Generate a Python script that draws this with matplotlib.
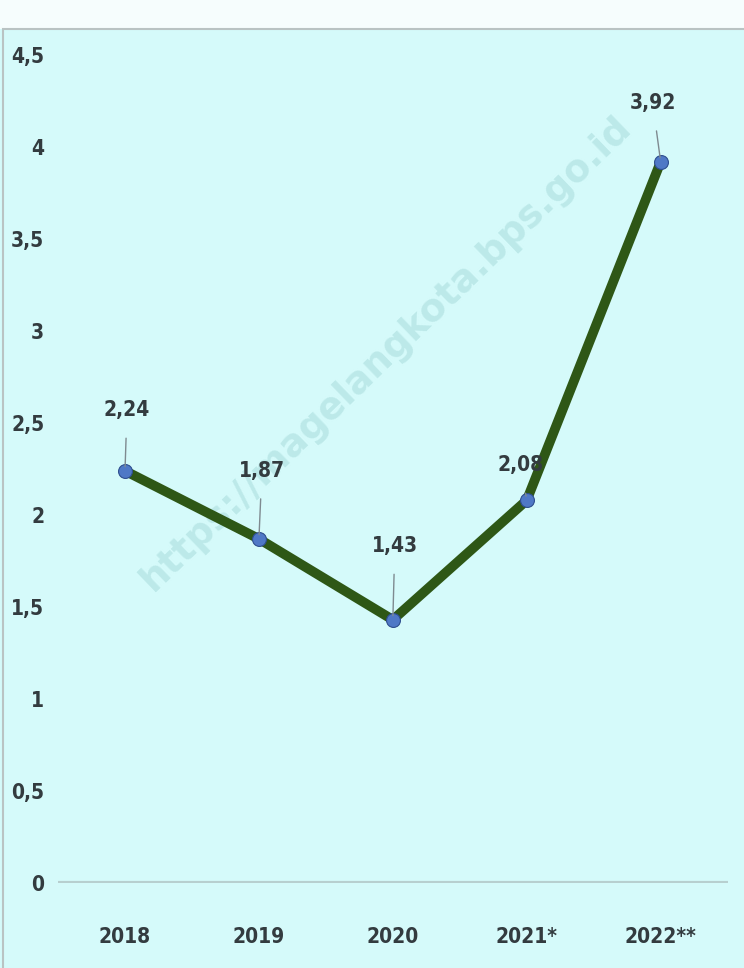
import matplotlib.pyplot as plt
from matplotlib.patches import Rectangle

years = ['2018', '2019', '2020', '2021*', '2022**']
values = [2.24, 1.87, 1.43, 2.08, 3.92]
labels = ['2,24', '1,87', '1,43', '2,08', '3,92']
yticks = [0, 0.5, 1, 1.5, 2, 2.5, 3, 3.5, 4, 4.5]
ytick_labels = ['0', '0,5', '1', '1,5', '2', '2,5', '3', '3,5', '4', '4,5']

plt.rcParams['font.family'] = ['DejaVu Sans']
plt.rcParams['font.stretch'] = 'condensed'
bg = '#D5FAFA'
txt = '#333B3F'

fig = plt.figure(figsize=(7.44, 9.68), dpi=100)
fig.patch.set_facecolor(bg)
# white band and border at the top
fig.patches.append(Rectangle((0, 0.97), 1, 0.03, transform=fig.transFigure,
                             facecolor='#F6FDFD', edgecolor='none', zorder=0))
fig.patches.append(Rectangle((0.004, -0.01), 1.1, 0.98, transform=fig.transFigure,
                             facecolor='none', edgecolor='#B9C3C3', lw=1.5, zorder=1))

ax = fig.add_axes([0.078, 0.088, 0.9, 0.855])
ax.set_facecolor(bg)
x = list(range(len(years)))

ax.axhline(0, color='#B7CFCF', lw=3, zorder=1)
ax.plot(x, values, color='#2E5716', lw=7, solid_capstyle='round', zorder=3)
ax.plot(x, values, 'o', ms=10, color='#4F78C6', mec='#2F4F8F', mew=0.8, zorder=4)

offsets = [(2, 0.33), (3, 0.37), (2, 0.40), (-6, 0.19), (-8, 0.32)]
for xi, v, lab, (dx, dy) in zip(x, values, labels, offsets):
    ax.annotate(lab, xy=(xi, v), xytext=(xi + dx / 134, v + dy),
                ha='center', va='center', fontsize=15, fontweight='bold', color=txt,
                arrowprops=dict(arrowstyle='-', color='#7F8A90', lw=1,
                                shrinkA=11, shrinkB=3), zorder=5)

ax.text(0.49, 0.64, 'https://magelangkota.bps.go.id', transform=ax.transAxes,
        rotation=44, ha='center', va='center', fontsize=27, fontweight='bold',
        color='#BCE9E9', fontstretch='normal', zorder=2)

ax.set_xlim(-0.5, 4.5)
ax.set_ylim(0, 4.5)
ax.set_yticks(yticks)
ax.set_yticklabels(ytick_labels)
ax.set_xticks(x)
ax.set_xticklabels(years)
ax.tick_params(length=0, labelsize=15, colors=txt)
ax.tick_params(axis='x', pad=32)
ax.tick_params(axis='y', pad=10)
for lbl in ax.get_xticklabels() + ax.get_yticklabels():
    lbl.set_fontweight('bold')
for s in ax.spines.values():
    s.set_visible(False)

fig.savefig('out.png', dpi=100, facecolor=fig.get_facecolor())
